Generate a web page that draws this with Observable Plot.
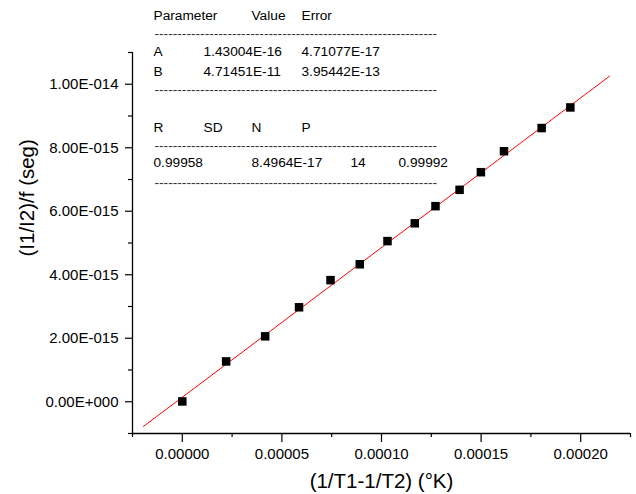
<!DOCTYPE html>
<html><head><meta charset="utf-8">
<script src="https://cdn.jsdelivr.net/npm/d3@7"></script>
<script src="https://cdn.jsdelivr.net/npm/@observablehq/plot@0.6"></script>
<style>
body{margin:0;background:#fff;}
#chart svg{font-family:"Liberation Sans",Arial,sans-serif;color:#000;background:#fff;}
</style>
</head><body><div id="chart"></div>
<script>
// ---- data ----
const xValues = [0, 2.20e-5, 4.16e-5, 5.86e-5, 7.44e-5, 8.91e-5, 1.030e-4, 1.167e-4, 1.271e-4, 1.392e-4, 1.499e-4, 1.615e-4, 1.804e-4, 1.948e-4];
const yValues = [0.01e-15, 1.27e-15, 2.06e-15, 2.975e-15, 3.83e-15, 4.33e-15, 5.06e-15, 5.62e-15, 6.16e-15, 6.675e-15, 7.23e-15, 7.89e-15, 8.62e-15, 9.27e-15];
const fitA = 1.43004e-16;
const fitB = 4.71451e-11;
const fitXRange = [-1.95e-5, 2.145e-4];
const xTicks = [0, 5e-5, 1e-4, 1.5e-4, 2e-4];
const xMinorTicks = [-2.5e-5, 2.5e-5, 7.5e-5, 1.25e-4, 1.75e-4, 2.25e-4];
const yTicks = [0, 2e-15, 4e-15, 6e-15, 8e-15, 1e-14];
const yMinorTicks = [-1e-15, 1e-15, 3e-15, 5e-15, 7e-15, 9e-15, 1.1e-14];
const xLabel = "(1/T1-1/T2) (°K)";
const yLabel = "(I1/I2)/f (seg)";
const tableParamHeader = ["Parameter", "Value", "Error"];
const tableRowA = ["A", "1.43004E-16", "4.71077E-17"];
const tableRowB = ["B", "4.71451E-11", "3.95442E-13"];
const tableStatHeader = ["R", "SD", "N", "P"];
const tableStatRow = ["0.99958", "8.4964E-17", "14", "0.99992"];

// ---- layout (pixels) ----
const W = 636, H = 494;
const mL = 132, mR = 6, mT = 52, mB = 61;
const colX = [153, 203, 251, 301, 350, 398];
const tableRows = [
  {cells: tableParamHeader, cols: [0, 2, 3], base: 19},
  {cells: tableRowA, cols: [0, 1, 3], base: 55},
  {cells: tableRowB, cols: [0, 1, 3], base: 75},
  {cells: tableStatHeader, cols: [0, 1, 2, 3], base: 131},
  {cells: tableStatRow, cols: [0, 2, 4, 5], base: 166.5}
];
const dashBases = [37.3, 93.3, 149, 186.7];
const tableFont = 13.7;

const data = xValues.map((x, i) => ({x, y: yValues[i]}));
const fitLine = fitXRange.map(x => ({x, y: fitA + fitB * x}));

function fmtY(d) {
  if (d === 0) return "0.00E+000";
  const [m, e] = d.toExponential(2).split("e");
  const n = +e;
  return m + "E" + (n < 0 ? "-" : "+") + String(Math.abs(n)).padStart(3, "0");
}

const marks = [
  Plot.line(fitLine, {x: "x", y: "y", stroke: "#ff0000", strokeWidth: 1}),
  Plot.dot(data, {x: "x", y: "y", symbol: "square", r: 4.8, fill: "#000", stroke: "none"}),
  Plot.ruleX([-2.5e-5], {stroke: "#000", strokeWidth: 1.3}),
  Plot.ruleY([-1e-15], {stroke: "#000", strokeWidth: 1.3}),
  Plot.axisX({ticks: xTicks, tickSize: 9, tickPadding: 6, tickFormat: d => d.toFixed(5), fontSize: 15, label: null, strokeWidth: 1.2}),
  Plot.axisX({ticks: xMinorTicks, tickSize: 4, tickFormat: () => "", label: null, strokeWidth: 1.2}),
  Plot.axisY({ticks: yTicks, tickSize: 7, tickPadding: 7, tickFormat: fmtY, fontSize: 15, label: null, strokeWidth: 1.2}),
  Plot.axisY({ticks: yMinorTicks, tickSize: 4, tickFormat: () => "", label: null, strokeWidth: 1.2}),
  Plot.text([xLabel], {text: d => d, frameAnchor: "bottom", dy: 54, lineAnchor: "bottom", fontSize: 20.5, fill: "#000"}),
  Plot.text([yLabel], {text: d => d, frameAnchor: "left", dx: 33 - mL, dy: 13.5, rotate: -90, lineAnchor: "bottom", fontSize: 20.5, fill: "#000"})
];

for (const row of tableRows) {
  row.cells.forEach((t, i) => {
    marks.push(Plot.text([t], {text: d => d, frameAnchor: "top-left", dx: colX[row.cols[i]] - mL, dy: row.base - mT,
      textAnchor: "start", lineAnchor: "bottom", fontSize: tableFont, fill: "#000"}));
  });
}
const dashStr = "-".repeat(62);
for (const b of dashBases) {
  marks.push(Plot.text([dashStr], {text: d => d, frameAnchor: "top-left", dx: 154 - mL, dy: b - mT,
    textAnchor: "start", lineAnchor: "bottom", fontSize: tableFont, fill: "#333"}));
}

const chart = Plot.plot({
  width: W, height: H,
  marginLeft: mL, marginRight: mR, marginTop: mT, marginBottom: mB,
  x: {domain: [-2.5e-5, 2.25e-4]},
  y: {domain: [-1e-15, 1.1e-14]},
  style: {fontFamily: '"Liberation Sans", Arial, sans-serif', color: "#000", background: "#fff", overflow: "visible"},
  marks
});
document.getElementById("chart").appendChild(chart);
</script>
</body></html>
